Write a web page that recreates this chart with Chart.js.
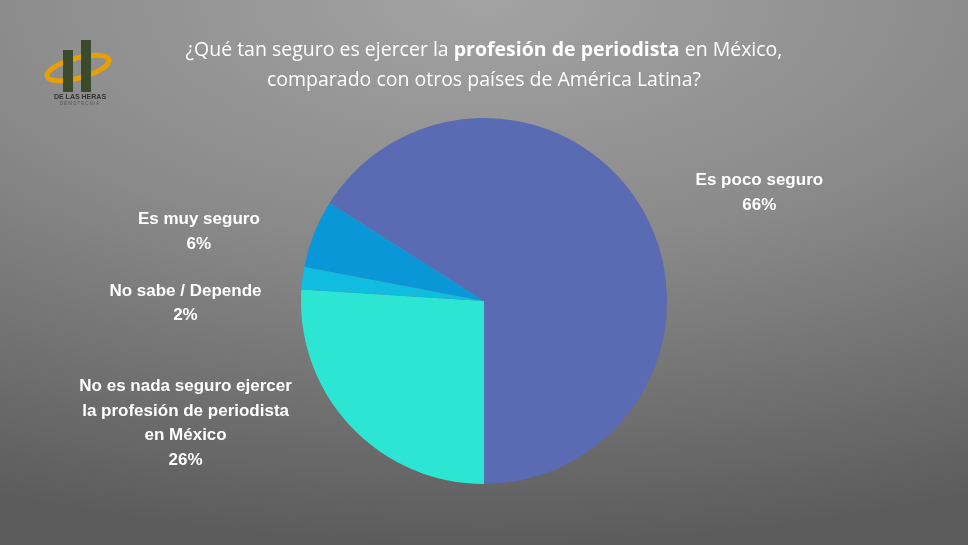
<!DOCTYPE html>
<html><head><meta charset="utf-8">
<script src="https://cdn.jsdelivr.net/npm/chart.js@4"></script>
<style>
body{margin:0;width:968px;height:545px;overflow:hidden;font-family:"Open Sans",sans-serif;
background:radial-gradient(ellipse 120% 100% at 50% 0%,#a3a3a3 0%,#8a8a8a 45%,#5c5c5c 100%);position:relative}
#title{position:absolute;top:34px;left:0;width:968px;text-align:center;color:#fff;font-size:19.5px;line-height:30px;padding-left:0}
#wrap{position:absolute;left:0;top:0;width:968px;height:545px}
#logo{position:absolute;left:44px;top:38px;width:72px;height:68px}
</style></head><body>
<div id="wrap"><canvas id="myChart" width="968" height="545"></canvas></div>
<div id="title">¿Qué tan seguro es ejercer la <b>profesión de periodista</b> en México,<br>comparado con otros países de América Latina?</div>
<svg id="logo" viewBox="0 0 72 68">
<ellipse cx="34" cy="30" rx="32" ry="10" fill="none" stroke="#e8a000" stroke-width="5" transform="rotate(-15 34 30)"/>
<rect x="19" y="12" width="10" height="42" fill="#3b4a2c"/>
<rect x="37" y="2" width="10" height="52" fill="#3b4a2c"/>
<text x="36" y="61" font-size="7" fill="#333" text-anchor="middle" font-family="Liberation Sans" font-weight="bold">DE LAS HERAS</text>
<text x="36" y="67" font-size="4.5" fill="#555" text-anchor="middle" font-family="Liberation Sans" letter-spacing="1">DEMOTECNIA</text>
</svg>
<script>
var categories = ["Es poco seguro", "No es nada seguro ejercer\nla profesión de periodista\nen México", "No sabe / Depende", "Es muy seguro"];
var values = [66, 26, 2, 6];
var colors = ['#5a6bb4', '#2de5d3', '#10bde0', '#0a97d8'];
var labelOffsets = [[115, -20], [-165, -3], [-117, 25], [-115, -2]];

var labelPlugin = {
  id: 'outLabels',
  afterDraw: function(chart){
    var c = chart.ctx, meta = chart.getDatasetMeta(0);
    c.save();
    c.fillStyle = '#fff';
    c.font = 'bold 17px "Liberation Sans", Arial, sans-serif';
    c.textAlign = 'center';
    c.textBaseline = 'middle';
    meta.data.forEach(function(arc, i){
      var mid = (arc.startAngle + arc.endAngle) / 2;
      var x = arc.x + Math.cos(mid) * arc.outerRadius + labelOffsets[i][0];
      var y = arc.y + Math.sin(mid) * arc.outerRadius + labelOffsets[i][1];
      var lines = categories[i].split('\n').concat([values[i] + '%']);
      var top = y - (lines.length - 1) * 24.5 / 2;
      lines.forEach(function(t, k){ c.fillText(t, x, top + k * 24.5); });
    });
    c.restore();
  }
};

new Chart(document.getElementById('myChart'), {
  type: 'pie',
  data: {
    labels: categories,
    datasets: [{ data: values, backgroundColor: colors, borderWidth: 0 }]
  },
  options: {
    responsive: false,
    animation: false,
    rotation: 302.4,
    layout: { padding: { top: 118, bottom: 61, left: 0, right: 0 } },
    plugins: { legend: { display: false }, tooltip: { enabled: false } }
  },
  plugins: [labelPlugin]
});
</script>
</body></html>
